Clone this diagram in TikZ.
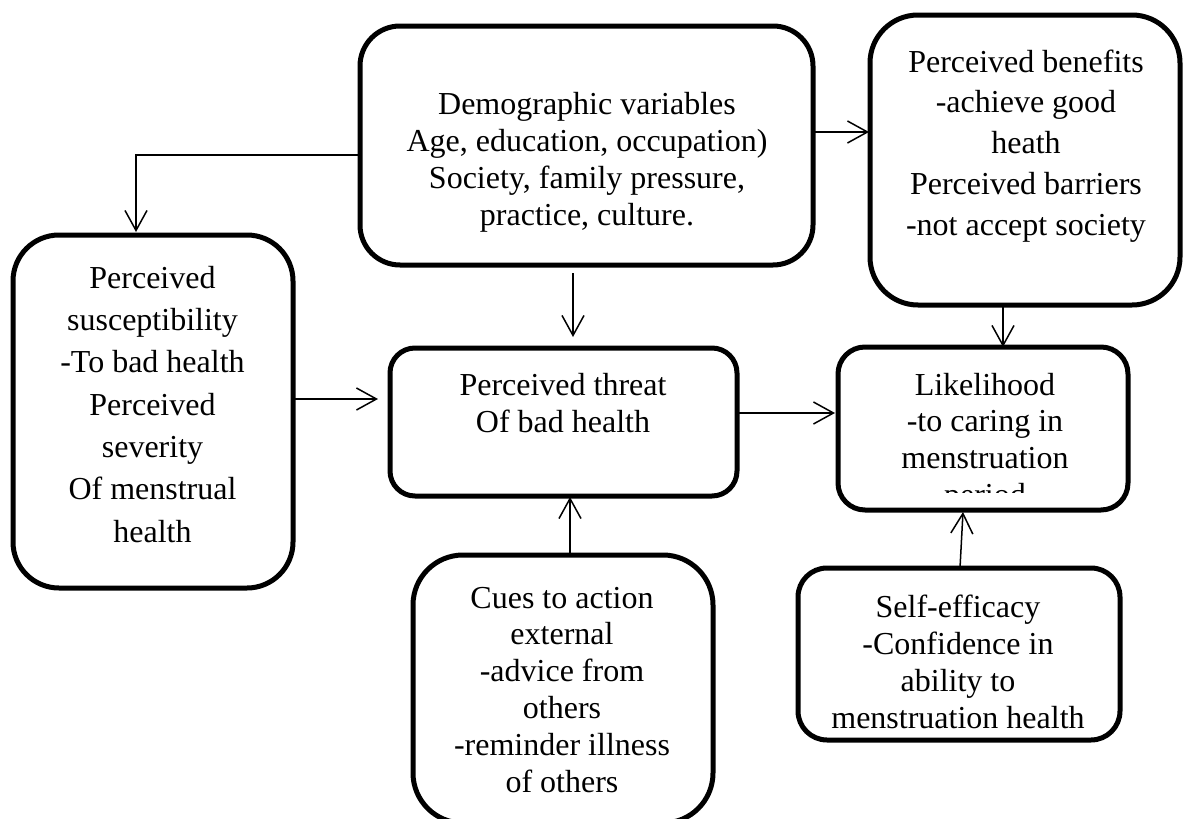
\documentclass[tikz,border=0pt]{standalone}
\usepackage{fontspec}
\setmainfont{Liberation Serif}
\usetikzlibrary{arrows.meta,calc}
\begin{document}
\begin{tikzpicture}[x=1pt,y=-1pt,
  box/.style={draw=black, line width=5pt, rectangle, inner sep=0pt, outer sep=0pt},
  txt/.style={align=center, anchor=base, inner sep=0pt, font=\fontsize{32}{37}\selectfont},
  arr/.style={-{Straight Barb[length=20pt,width=22pt,line width=1.5pt]}, line width=1.5pt, line cap=butt}
]
\path[use as bounding box] (0,0) rectangle (1184,819);
\clip (0,0) rectangle (1184,819);

% boxes
\node[box, minimum width=453pt, minimum height=239pt, rounded corners=40pt] (demo) at (586.5,145.5) {};
\node[box, minimum width=310pt, minimum height=290pt, rounded corners=48pt] (ben) at (1025,160) {};
\node[box, minimum width=280pt, minimum height=353pt, rounded corners=46pt] (sus) at (153,411.5) {};
\node[box, minimum width=347pt, minimum height=148pt, rounded corners=25pt] (thr) at (563.5,422) {};
\node[box, minimum width=290pt, minimum height=163pt, rounded corners=27pt] (lik) at (983,428.5) {};
\node[box, minimum width=300pt, minimum height=268pt, rounded corners=50pt] (cue) at (563,689) {};
\node[box, minimum width=322pt, minimum height=172pt, rounded corners=29pt] (self) at (959,654) {};

% texts (anchor=base is the baseline of the last line)
\node[txt, font=\fontsize{32}{36.7}\selectfont] (demo-t) at (587,225) {Demographic variables\\Age, education, occupation)\hspace*{24pt}\\Society, family pressure,\\practice, culture.};
\node[txt, font=\fontsize{32}{40.7}\selectfont] (ben-t) at (1026,235) {Perceived benefits\\-achieve good\\heath\\Perceived barriers\\-not accept society};
\node[txt, font=\fontsize{32}{42.3}\selectfont] (sus-t) at (152.5,542) {Perceived\\susceptibility\\-To bad health\\Perceived\\severity\\Of menstrual\\health};
\node[txt] (thr-t) at (563,432) {Perceived threat\\Of bad health};
\begin{scope}
  \clip (840,350) rectangle (1126,492.5);
  \node[txt, font=\fontsize{32}{36.6}\selectfont] (lik-t) at (985,505) {Likelihood\\-to caring in\\menstruation\\period};
\end{scope}
\node[txt, font=\fontsize{32}{36.8}\selectfont] (cue-t) at (562,792) {Cues to action\\external\\-advice from\\others\\-reminder illness\\of others};
\node[txt] (self-t) at (958,728) {Self-efficacy\\-Confidence in\\ability to\\menstruation health};

% connectors
\draw[arr] ($(demo.east)+(0,-13.5)$) -- ($(ben.west)+(-1,-28)$);
\draw[arr] ($(demo.west)+(0,9.5)$) -| ($(sus.north)+(-17,-3)$);
\draw[arr] ($(demo.south)+(-13.5,8)$) -- ($(thr.north)+(9.5,-11)$);
\draw[arr] ($(sus.east)+(-2,-12.5)$) -- ($(thr.west)+(-12,-23)$);
\draw[arr] ($(thr.east)+(0,-9)$) -- ($(lik.west)+(-3,-15.5)$);
\draw[arr] ($(ben.south)+(-22,0)$) -- ($(lik.north)+(20,0)$);
\draw[arr] ($(cue.north)+(7,0)$) -- ($(thr.south)+(6.5,1)$);
\draw[arr] ($(self.north)+(1,0)$) -- ($(lik.south)+(-20,2)$);
\end{tikzpicture}
\end{document}
